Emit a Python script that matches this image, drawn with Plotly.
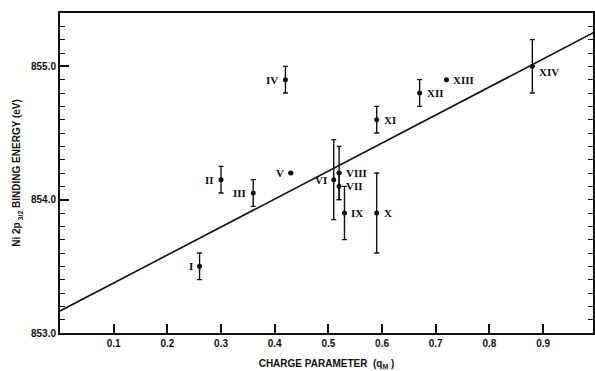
import plotly.graph_objects as go

# data
labels = ["I", "II", "III", "IV", "V", "VI", "VII", "VIII", "IX", "X", "XI", "XII", "XIII", "XIV"]
charge = [0.26, 0.30, 0.36, 0.42, 0.43, 0.51, 0.52, 0.52, 0.53, 0.59, 0.59, 0.67, 0.72, 0.88]
energy = [853.50, 854.15, 854.05, 854.90, 854.20, 854.15, 854.10, 854.20, 853.90, 853.90, 854.60, 854.80, 854.90, 855.00]
err = [0.10, 0.10, 0.10, 0.10, 0.0, 0.30, 0.10, 0.20, 0.20, 0.30, 0.10, 0.10, 0.0, 0.20]
label_side = ["l", "l", "l", "l", "l", "l", "r", "r", "r", "r", "r", "r", "r", "r"]

fit_x = [0.0, 1.0]
fit_y = [853.165, 855.265]

x_ticks = [0.1, 0.2, 0.3, 0.4, 0.5, 0.6, 0.7, 0.8, 0.9, 1.0]
x_ticktext = ["0.1", "0.2", "0.3", "0.4", "0.5", "0.6", "0.7", "0.8", "0.9", "1."]
y_ticks = [853.0, 854.0, 855.0]
y_ticktext = ["853.0", "854.0", "855.0"]
y_range = [853.0, 855.4]

font_sans = "Liberation Sans Narrow, Arial Narrow, Liberation Sans, Arial"
font_serif = "Liberation Serif, Times New Roman, DejaVu Serif"

fig = go.Figure()

fig.add_trace(go.Scatter(
    x=fit_x, y=fit_y, mode="lines",
    line=dict(color="#111111", width=1.6),
    hoverinfo="skip", showlegend=False,
))

fig.add_trace(go.Scatter(
    x=charge, y=energy, mode="markers",
    marker=dict(color="#111111", size=5),
    error_y=dict(type="data", array=err, visible=True, color="#111111", thickness=1.4, width=2.5),
    showlegend=False,
))

# invisible trace to activate the right-hand tick axis
fig.add_trace(go.Scatter(
    x=[fit_x[0]], y=[y_range[0]], yaxis="y2", mode="markers",
    marker=dict(opacity=0), hoverinfo="skip", showlegend=False,
))

for lab, xv, yv, side in zip(labels, charge, energy, label_side):
    ys = 0
    if lab == "XIV":
        ys = -6
    fig.add_annotation(
        x=xv, y=yv, text="<b>" + lab + "</b>", showarrow=False,
        xanchor="right" if side == "l" else "left",
        xshift=-5 if side == "l" else 5, yshift=ys,
        font=dict(family=font_serif, size=11, color="#111111"),
    )

fig.update_layout(
    width=595, height=371,
    margin=dict(l=60, r=2, t=13, b=38),
    paper_bgcolor="white", plot_bgcolor="white",
    font=dict(family=font_sans, color="#111111"),
    yaxis2=dict(
        overlaying="y", side="right", range=y_range,
        tick0=853.0, dtick=0.1, ticks="inside", ticklen=5, tickwidth=1.2, tickcolor="#111111",
        showticklabels=False, showgrid=False, zeroline=False, showline=False,
        automargin=False,
    ),
)

fig.update_xaxes(
    range=[0, 0.993],
    tickvals=x_ticks, ticktext=["<b>" + t + "</b>" for t in x_ticktext],
    ticks="inside", ticklen=9, tickwidth=1.5, tickcolor="#111111",
    showline=True, linewidth=2, linecolor="#111111", mirror=True,
    showgrid=False, zeroline=False,
    tickfont=dict(size=10, family=font_sans),
    title=dict(text="<b>CHARGE PARAMETER  (q<sub>M</sub> )</b>", font=dict(size=10, family=font_sans), standoff=12),
    automargin=False,
)

fig.update_yaxes(
    selector=dict(anchor="x"),
)

fig.update_layout(yaxis=dict(
    range=y_range,
    tickvals=y_ticks, ticktext=["<b>" + t + "</b>" for t in y_ticktext],
    ticks="inside", ticklen=9, tickwidth=1.5, tickcolor="#111111",
    minor=dict(dtick=0.1, tick0=853.0, ticks="inside", ticklen=5, tickwidth=1.2, tickcolor="#111111"),
    showline=True, linewidth=2, linecolor="#111111", mirror=True,
    showgrid=False, zeroline=False,
    tickfont=dict(size=10, family=font_sans),
    title=dict(text="<b>Ni 2p<sub> 3/2</sub> BINDING ENERGY (eV)</b>", font=dict(size=10, family=font_sans), standoff=8),
    automargin=False,
))

fig.write_html(
    "out.html",
    config={"displayModeBar": False},
    post_script="document.body.style.margin='0';document.body.style.overflow='hidden';",
)
